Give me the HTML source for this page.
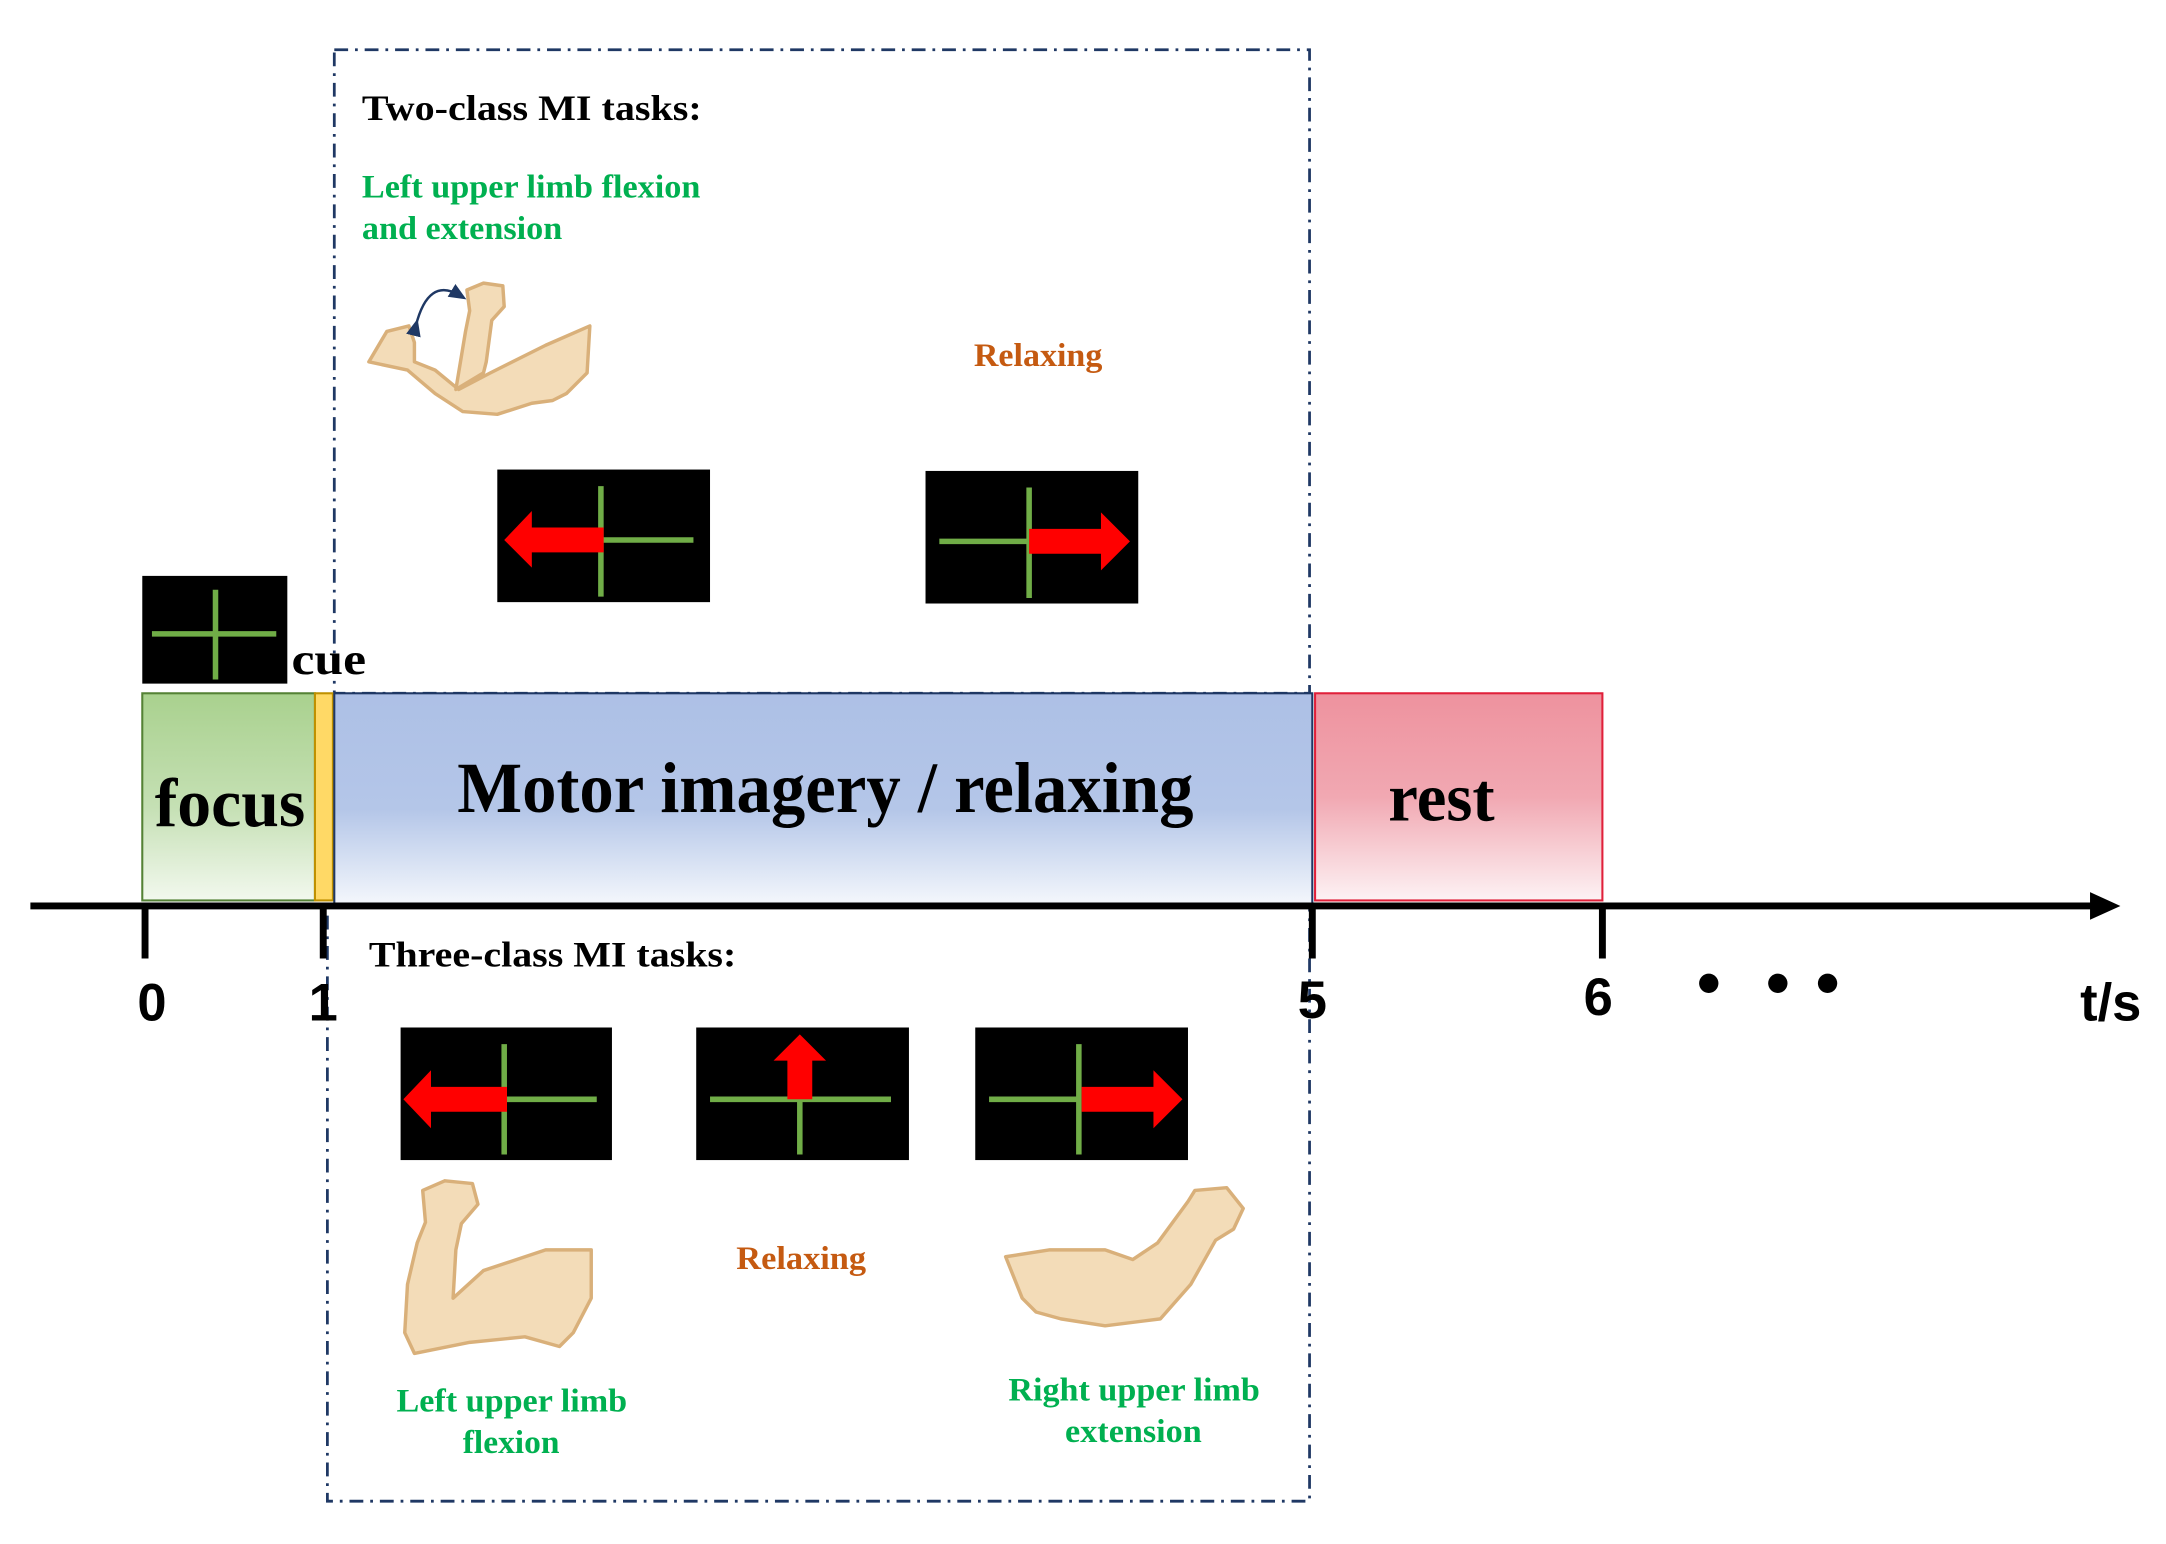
<!DOCTYPE html>
<html><head><meta charset="utf-8"><style>
html,body{margin:0;padding:0;background:#fff;}
svg{display:block;}
text{font-family:"Liberation Serif",serif;font-weight:bold;}
.n{font-family:"Liberation Sans",sans-serif;font-weight:bold;}
</style></head><body>
<svg width="2166" height="1544" viewBox="0 0 1568 1118" preserveAspectRatio="none" xmlns="http://www.w3.org/2000/svg">
<defs>
<linearGradient id="gg" x1="0" y1="0" x2="0" y2="1"><stop offset="0" stop-color="#a9d18e"/><stop offset="0.55" stop-color="#c5e0b4"/><stop offset="1" stop-color="#f2f8ee"/></linearGradient>
<linearGradient id="bg" x1="0" y1="0" x2="0" y2="1"><stop offset="0" stop-color="#adc0e6"/><stop offset="0.55" stop-color="#b4c6e8"/><stop offset="1" stop-color="#f4f7fc"/></linearGradient>
<linearGradient id="rg" x1="0" y1="0" x2="0" y2="1"><stop offset="0" stop-color="#ee929e"/><stop offset="0.5" stop-color="#f1a8b2"/><stop offset="1" stop-color="#fdf2f4"/></linearGradient>
<marker id="ah" markerWidth="8" markerHeight="8" refX="4" refY="4" orient="auto"><path d="M0,1 L7,4 L0,7 z" fill="#1f3864"/></marker>
</defs>

<rect x="242" y="36" width="706" height="466" fill="none" stroke="#1f3864" stroke-width="2" stroke-dasharray="10,5,2,5"/>
<rect x="237" y="657" width="711" height="430" fill="none" stroke="#1f3864" stroke-width="2" stroke-dasharray="10,5,2,5"/>

<rect x="103" y="502" width="125" height="150" fill="url(#gg)" stroke="#548235" stroke-width="1.5"/>
<rect x="228" y="502" width="13" height="150" fill="#ffd966" stroke="#bf9000" stroke-width="1.5"/>
<rect x="242" y="502" width="708" height="153" fill="url(#bg)" stroke="#1f3864" stroke-width="1.5"/>
<rect x="952" y="502" width="208" height="150" fill="url(#rg)" stroke="#e0203a" stroke-width="1.5"/>

<text x="112" y="598" font-size="50" textLength="109" lengthAdjust="spacingAndGlyphs">focus</text>
<text x="331" y="588" font-size="52" textLength="533" lengthAdjust="spacingAndGlyphs">Motor imagery / relaxing</text>
<text x="1005" y="594" font-size="50" textLength="77" lengthAdjust="spacingAndGlyphs">rest</text>

<line x1="22" y1="656" x2="1518" y2="656" stroke="#000" stroke-width="5"/>
<path d="M1513,646 L1535,656 L1513,666 z" fill="#000"/>
<g stroke="#000" stroke-width="5">
<line x1="105" y1="656" x2="105" y2="694"/><line x1="234" y1="656" x2="234" y2="694"/>
<line x1="950" y1="656" x2="950" y2="694"/><line x1="1160" y1="656" x2="1160" y2="694"/>
</g>
<g font-size="38" text-anchor="middle">
<text class="n" x="110" y="739">0</text><text class="n" x="234" y="739">1</text>
<text class="n" x="950" y="737">5</text><text class="n" x="1157" y="735">6</text>
<text class="n" x="1528" y="739">t/s</text>
</g>
<circle cx="1237" cy="712" r="7"/><circle cx="1287" cy="712" r="7"/><circle cx="1323" cy="712" r="7"/>

<rect x="103" y="417" width="105" height="78" fill="#000"/>
<line x1="110" y1="459" x2="200" y2="459" stroke="#70ad47" stroke-width="4"/>
<line x1="156" y1="427" x2="156" y2="492" stroke="#70ad47" stroke-width="4"/>
<text x="211" y="488" font-size="32" textLength="54" lengthAdjust="spacingAndGlyphs">cue</text>

<text x="262" y="87" font-size="26" textLength="246" lengthAdjust="spacingAndGlyphs">Two-class MI tasks:</text>
<text x="262" y="143" font-size="24" fill="#00b050" textLength="245" lengthAdjust="spacingAndGlyphs">Left upper limb flexion</text>
<text x="262" y="173" font-size="24" fill="#00b050" textLength="145" lengthAdjust="spacingAndGlyphs">and extension</text>
<text x="705" y="265" font-size="24" fill="#c55a11" textLength="93" lengthAdjust="spacingAndGlyphs">Relaxing</text>

<g>
<rect x="360" y="340" width="154" height="96" fill="#000"/>
<line x1="435" y1="352" x2="435" y2="432" stroke="#70ad47" stroke-width="4"/>
<line x1="435" y1="391" x2="502" y2="391" stroke="#70ad47" stroke-width="4"/>
<path d="M437,382 L385,382 L385,370 L365,391 L385,411 L385,400 L437,400 z" fill="#ff0000"/>
</g>
<g>
<rect x="670" y="341" width="154" height="96" fill="#000"/>
<line x1="745" y1="353" x2="745" y2="433" stroke="#70ad47" stroke-width="4"/>
<line x1="680" y1="392" x2="745" y2="392" stroke="#70ad47" stroke-width="4"/>
<path d="M745,383 L797,383 L797,371 L818,392 L797,413 L797,401 L745,401 z" fill="#ff0000"/>
</g>

<text x="267" y="700" font-size="26" textLength="266" lengthAdjust="spacingAndGlyphs">Three-class MI tasks:</text>
<text x="533" y="919" font-size="24" fill="#c55a11" textLength="94" lengthAdjust="spacingAndGlyphs">Relaxing</text>
<g font-size="24" fill="#00b050">
<text x="287" y="1022" fill="#00b050" textLength="167" lengthAdjust="spacingAndGlyphs">Left upper limb</text>
<text x="335" y="1052" fill="#00b050" textLength="70" lengthAdjust="spacingAndGlyphs">flexion</text>
<text x="730" y="1014" fill="#00b050" textLength="182" lengthAdjust="spacingAndGlyphs">Right upper limb</text>
<text x="771" y="1044" fill="#00b050" textLength="99" lengthAdjust="spacingAndGlyphs">extension</text>
</g>

<g>
<rect x="290" y="744" width="153" height="96" fill="#000"/>
<line x1="365" y1="756" x2="365" y2="836" stroke="#70ad47" stroke-width="4"/>
<line x1="365" y1="796" x2="432" y2="796" stroke="#70ad47" stroke-width="4"/>
<path d="M367,787 L312,787 L312,775 L292,796 L312,817 L312,805 L367,805 z" fill="#ff0000"/>
</g>
<g>
<rect x="504" y="744" width="154" height="96" fill="#000"/>
<line x1="514" y1="796" x2="645" y2="796" stroke="#70ad47" stroke-width="4"/>
<line x1="579" y1="796" x2="579" y2="836" stroke="#70ad47" stroke-width="4"/>
<path d="M570,796 L570,768 L560,768 L579,749 L598,768 L588,768 L588,796 z" fill="#ff0000"/>
</g>
<g>
<rect x="706" y="744" width="154" height="96" fill="#000"/>
<line x1="781" y1="756" x2="781" y2="836" stroke="#70ad47" stroke-width="4"/>
<line x1="716" y1="796" x2="781" y2="796" stroke="#70ad47" stroke-width="4"/>
<path d="M783,787 L835,787 L835,775 L856,796 L835,817 L835,805 L783,805 z" fill="#ff0000"/>
</g>

<g fill="#f3dcb8" stroke="#d9b07a" stroke-width="2.5" stroke-linejoin="round">
<path d="M267,262 L280,240 L296,236 L300,248 L300,262 L315,268 L332,282 L355,270 L395,250 L427,236 L425,270 L410,285 L400,290 L385,292 L360,300 L335,298 L315,285 L295,268 Z"/>
<path d="M330,282 L337,240 L340,225 L338,210 L350,205 L364,207 L365,222 L356,232 L352,262 L350,270 Z"/>
<path d="M306,862 L322,855 L342,857 L346,872 L334,886 L330,905 L328,940 L350,920 L395,905 L428,905 L428,940 L415,965 L405,975 L380,968 L340,972 L300,980 L293,965 L295,930 L302,900 L308,885 Z"/>
<path d="M728,910 L760,905 L800,905 L820,912 L838,900 L860,870 L865,862 L888,860 L900,875 L893,890 L880,898 L862,930 L840,955 L800,960 L768,955 L750,950 L740,940 Z"/>
</g>
<path d="M301,236 Q310,200 333,214" fill="none" stroke="#1f3864" stroke-width="1.8" marker-end="url(#ah)" marker-start="url(#ah)"/>
</svg>
</body></html>
